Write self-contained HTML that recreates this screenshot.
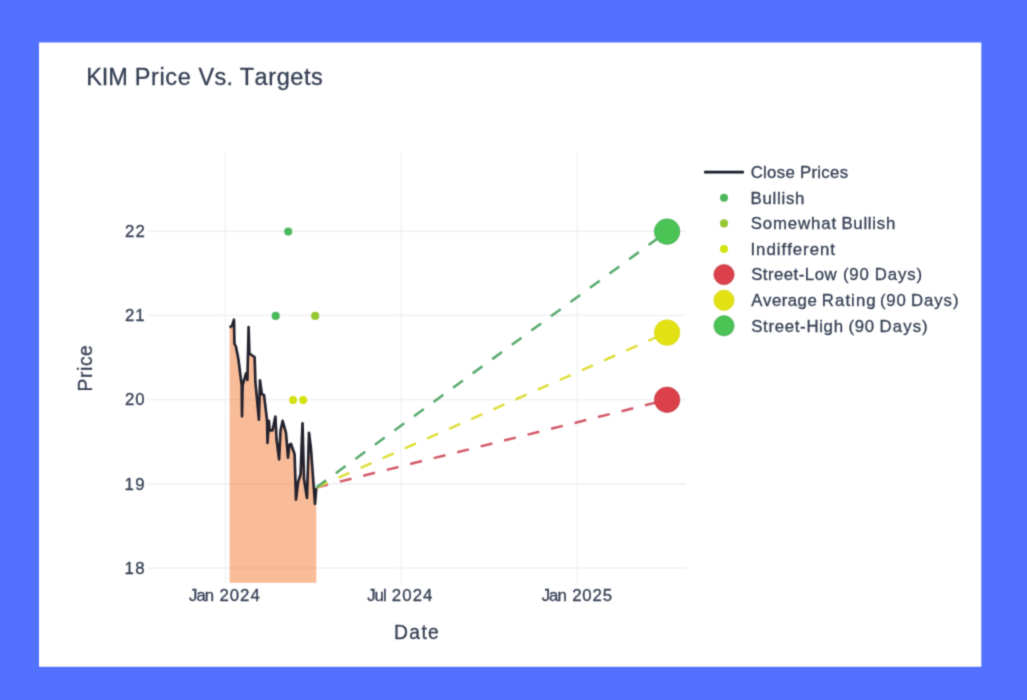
<!DOCTYPE html>
<html><head><meta charset="utf-8"><title>KIM Price Vs. Targets</title>
<style>
html,body{margin:0;padding:0;background:#5271ff;overflow:hidden}
svg{display:block}
text{font-family:"Liberation Sans",sans-serif;fill:#353f53;stroke:#353f53;stroke-width:0.3px;font-kerning:none;white-space:pre}
</style></head><body>
<svg width="1027" height="700" viewBox="0 0 1027 700">
<rect x="0" y="0" width="1027" height="700" fill="#5271ff"/>
<defs><filter id="soft" x="0" y="0" width="1027" height="700" filterUnits="userSpaceOnUse" color-interpolation-filters="sRGB"><feConvolveMatrix order="3" kernelMatrix="0.0277 0.1110 0.0277 0.1110 0.4452 0.1110 0.0277 0.1110 0.0277" divisor="1" edgeMode="duplicate" preserveAlpha="true"/></filter></defs>
<g filter="url(#soft)">
<rect x="-5" y="-5" width="1037" height="710" fill="#5271ff"/>
<rect x="39" y="42.5" width="942.3" height="624.3" fill="#ffffff"/>
<g stroke="#eeeff2" stroke-width="1.4" fill="none">
<line x1="225.4" y1="152.6" x2="225.4" y2="582.8" stroke="#f2f3f5"/>
<line x1="400.8" y1="152.6" x2="400.8" y2="582.8" stroke="#f2f3f5"/>
<line x1="577.4" y1="152.6" x2="577.4" y2="582.8" stroke="#f2f3f5"/>
<line x1="147.6" y1="568.0" x2="686.0" y2="568.0"/>
<line x1="147.6" y1="483.8" x2="686.0" y2="483.8"/>
<line x1="147.6" y1="399.6" x2="686.0" y2="399.6"/>
<line x1="147.6" y1="315.4" x2="686.0" y2="315.4"/>
<line x1="147.6" y1="231.2" x2="686.0" y2="231.2"/>
</g>
<polygon points="229.6,582.8 229.6,327.3 232.0,325.8 234.0,319.7 234.4,343.5 235.9,346.5 238.3,358.5 241.7,385.4 242.0,416.3 242.6,385.4 246.0,373.4 247.4,380.0 248.6,327.0 249.4,353.7 254.6,357.0 255.4,382.0 258.9,419.7 260.0,380.3 261.8,394.0 264.0,394.9 267.1,420.9 267.5,443.0 268.9,420.9 269.7,430.3 272.6,430.3 275.4,416.6 276.6,439.7 279.1,459.4 280.5,431.0 282.6,420.9 286.0,432.9 288.0,457.7 289.4,444.9 291.0,444.0 294.6,454.3 296.0,499.7 298.0,482.6 300.6,474.0 302.5,423.4 304.0,479.0 307.0,498.0 309.0,432.9 310.9,448.0 313.4,482.6 315.0,504.0 316.3,487.8 316.3,582.8" fill="rgb(243,121,49)" fill-opacity="0.5"/>
<polyline points="229.6,327.3 232.0,325.8 234.0,319.7 234.4,343.5 235.9,346.5 238.3,358.5 241.7,385.4 242.0,416.3 242.6,385.4 246.0,373.4 247.4,380.0 248.6,327.0 249.4,353.7 254.6,357.0 255.4,382.0 258.9,419.7 260.0,380.3 261.8,394.0 264.0,394.9 267.1,420.9 267.5,443.0 268.9,420.9 269.7,430.3 272.6,430.3 275.4,416.6 276.6,439.7 279.1,459.4 280.5,431.0 282.6,420.9 286.0,432.9 288.0,457.7 289.4,444.9 291.0,444.0 294.6,454.3 296.0,499.7 298.0,482.6 300.6,474.0 302.5,423.4 304.0,479.0 307.0,498.0 309.0,432.9 310.9,448.0 313.4,482.6 315.0,504.0 316.3,487.8" fill="none" stroke="#24222e" stroke-width="2.65" stroke-linejoin="round" stroke-linecap="butt"/>
<circle cx="288.2" cy="231.6" r="4.05" fill="#4cb85c"/>
<circle cx="275.7" cy="315.9" r="4.05" fill="#4cb85c"/>
<circle cx="315.2" cy="315.9" r="4.05" fill="#96c832"/>
<circle cx="293.1" cy="400" r="4.05" fill="#d2e30f"/>
<circle cx="303.15" cy="400" r="4.05" fill="#d2e30f"/>
<line x1="316.3" y1="487.5" x2="667" y2="399.8" stroke="#d25a68" stroke-width="2.5" stroke-dasharray="12.1 12.1"/>
<line x1="316.3" y1="487.5" x2="667" y2="332.6" stroke="#dede3c" stroke-width="2.5" stroke-dasharray="12.1 12.1"/>
<line x1="316.3" y1="487.5" x2="667" y2="231.6" stroke="#58aa6c" stroke-width="2.5" stroke-dasharray="12.1 12.1"/>
<circle cx="667.1" cy="399.8" r="12.8" fill="#dc414b" stroke="#b23a48" stroke-opacity="0.55" stroke-width="1"/>
<circle cx="667.1" cy="332.6" r="12.8" fill="#e1e114" stroke="#d6d618" stroke-opacity="0.55" stroke-width="1"/>
<circle cx="667.1" cy="231.6" r="12.8" fill="#4bc355" stroke="#4a9f5c" stroke-opacity="0.55" stroke-width="1"/>
<text x="86.37" y="85.20" font-size="23.5" letter-spacing="-0.212">KIM</text>
<text x="134.87" y="85.20" font-size="23.5" letter-spacing="0.583">Price</text>
<text x="198.40" y="85.20" font-size="23.5" letter-spacing="0.348">Vs.</text>
<text x="239.67" y="85.20" font-size="23.5" letter-spacing="0.585">Targets</text>
<text x="124.52" y="573.80" font-size="16.8" letter-spacing="1.423">18</text>
<text x="124.52" y="489.60" font-size="16.8" letter-spacing="1.489">19</text>
<text x="124.96" y="405.40" font-size="16.8" letter-spacing="0.914">20</text>
<text x="124.96" y="321.20" font-size="16.8" letter-spacing="1.079">21</text>
<text x="124.96" y="237.00" font-size="16.8" letter-spacing="1.103">22</text>
<text x="188.94" y="601.10" font-size="16.8" letter-spacing="-0.917">Jan</text>
<text x="219.46" y="601.10" font-size="16.8" letter-spacing="0.988">2024</text>
<text x="367.14" y="601.10" font-size="16.8" letter-spacing="-0.895">Jul</text>
<text x="391.86" y="601.10" font-size="16.8" letter-spacing="1.055">2024</text>
<text x="541.74" y="601.10" font-size="16.8" letter-spacing="-1.017">Jan</text>
<text x="572.16" y="601.10" font-size="16.8" letter-spacing="0.826">2025</text>
<text x="394.02" y="638.50" font-size="19.3" letter-spacing="1.358">Date</text>
<g transform="translate(92.1,389.8) rotate(-90)"><text x="-1.58" y="0.00" font-size="19.3" letter-spacing="0.567">Price</text></g>
<line x1="704.1" y1="172.2" x2="743.9" y2="172.2" stroke="#171b2b" stroke-width="2.7"/>
<circle cx="724" cy="197.8" r="4.05" fill="#4cb85c"/>
<circle cx="724" cy="223.4" r="4.05" fill="#96c832"/>
<circle cx="724" cy="249.0" r="4.05" fill="#d2e30f"/>
<circle cx="724" cy="274.6" r="10.2" fill="#dc414b" stroke="#b23a48" stroke-opacity="0.55" stroke-width="1"/>
<circle cx="724" cy="300.2" r="10.2" fill="#e1e114" stroke="#d6d618" stroke-opacity="0.55" stroke-width="1"/>
<circle cx="724" cy="325.8" r="10.2" fill="#4bc355" stroke="#4a9f5c" stroke-opacity="0.55" stroke-width="1"/>
<text x="750.65" y="178.30" font-size="16.8" letter-spacing="0.312">Close</text>
<text x="800.02" y="178.30" font-size="16.8" letter-spacing="0.282">Prices</text>
<text x="750.62" y="203.70" font-size="16.8" letter-spacing="0.730">Bullish</text>
<text x="750.74" y="229.20" font-size="16.8" letter-spacing="0.873">Somewhat</text>
<text x="841.42" y="229.20" font-size="16.8" letter-spacing="0.730">Bullish</text>
<text x="750.45" y="254.80" font-size="16.8" letter-spacing="0.996">Indifferent</text>
<text x="751.14" y="280.40" font-size="16.8" letter-spacing="0.476">Street-Low</text>
<text x="842.96" y="280.40" font-size="16.8" letter-spacing="0.808">(90</text>
<text x="874.72" y="280.40" font-size="16.8" letter-spacing="0.887">Days)</text>
<text x="751.37" y="306.00" font-size="16.8" letter-spacing="0.484">Average</text>
<text x="821.82" y="306.00" font-size="16.8" letter-spacing="1.060">Rating</text>
<text x="879.96" y="306.00" font-size="16.8" letter-spacing="0.808">(90</text>
<text x="911.12" y="306.00" font-size="16.8" letter-spacing="0.887">Days)</text>
<text x="751.14" y="331.60" font-size="16.8" letter-spacing="0.699">Street-High</text>
<text x="848.46" y="331.60" font-size="16.8" letter-spacing="0.708">(90</text>
<text x="879.62" y="331.60" font-size="16.8" letter-spacing="1.062">Days)</text>
</g></svg></body></html>
